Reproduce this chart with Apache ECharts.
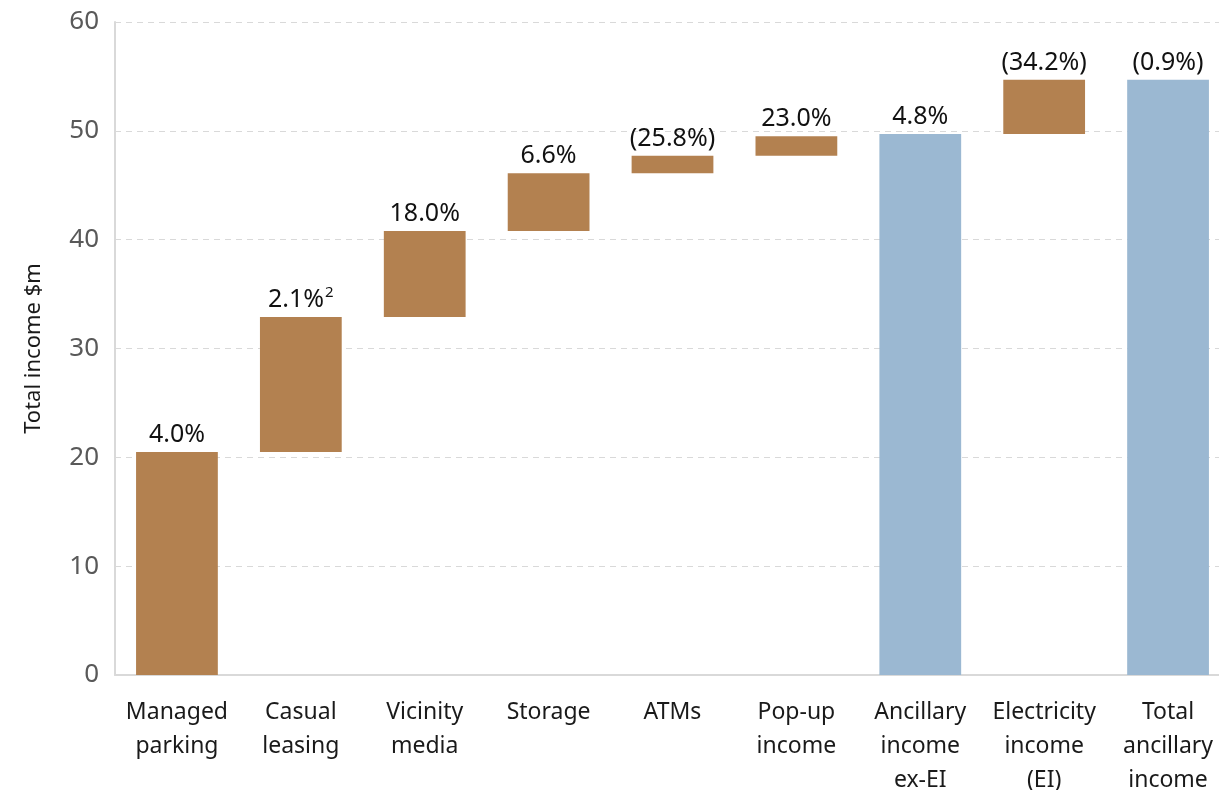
<!DOCTYPE html>
<html>
<head>
<meta charset="utf-8">
<script src="https://cdn.jsdelivr.net/npm/echarts@6/dist/echarts.min.js"></script>
<style>html,body{margin:0;padding:0;background:#fff;overflow:hidden}#c{width:1219px;height:790px}</style>
</head>
<body>
<div id="c"></div>
<script>
const categories = ['Managed\nparking', 'Casual\nleasing', 'Vicinity\nmedia', 'Storage', 'ATMs', 'Pop-up\nincome', 'Ancillary\nincome\nex-EI', 'Electricity\nincome\n(EI)', 'Total\nancillary\nincome'];
const baseValues = [0, 20.5, 32.9, 40.8, 46.1, 47.7, 0, 49.7, 0];
const barValues = [20.5, 12.4, 7.9, 5.3, 1.6, 1.8, 49.7, 5.0, 54.7];
const isTotal = [false, false, false, false, false, false, true, false, true];
const barLabels = ['4.0%', '2.1%|2', '18.0%', '6.6%', '(25.8%)', '23.0%', '4.8%', '(34.2%)', '(0.9%)'];
const yTicks = [0, 10, 20, 30, 40, 50, 60];

const BROWN = '#B38150';
const BLUE = '#9BB8D2';
const FONT = 'Noto Sans';

const chart = echarts.init(document.getElementById('c'), null, {renderer: 'canvas', width: 1219, height: 790});
chart.setOption({
  animation: false,
  backgroundColor: '#fff',
  textStyle: {fontFamily: FONT},
  grid: {left: 115, top: 22, width: 1115, height: 653, containLabel: false, outerBoundsMode: 'none'},
  xAxis: {
    type: 'category',
    data: categories,
    axisLine: {lineStyle: {color: '#d9d9d9', width: 2}},
    axisTick: {show: false},
    axisLabel: {color: '#1a1a1a', fontSize: 23, lineHeight: 34, margin: 20, fontFamily: FONT, interval: 0}
  },
  yAxis: {
    type: 'value',
    min: yTicks[0],
    max: yTicks[yTicks.length - 1],
    interval: 10,
    name: 'Total income $m',
    nameLocation: 'middle',
    nameRotate: 90,
    nameGap: 70,
    nameTextStyle: {color: '#1a1a1a', fontSize: 22, fontFamily: FONT},
    axisLine: {show: true, lineStyle: {color: '#d9d9d9', width: 2}},
    axisTick: {show: false},
    axisLabel: {color: '#595959', fontSize: 26, margin: 16, fontFamily: FONT},
    splitLine: {lineStyle: {color: '#d9d9d9', type: [6, 5], width: 1}}
  },
  series: [
    {
      type: 'bar',
      stack: 'w',
      silent: true,
      itemStyle: {color: 'transparent'},
      data: baseValues,
      barWidth: '66%'
    },
    {
      type: 'bar',
      stack: 'w',
      barWidth: '66%',
      data: barValues.map((v, i) => {
        const parts = barLabels[i].split('|');
        const txt = parts.length > 1 ? '{a|' + parts[0] + '}{s|' + parts[1] + '}' : '{a|' + parts[0] + '}';
        return {
          value: v,
          itemStyle: {color: isTotal[i] ? BLUE : BROWN},
          label: {formatter: txt}
        };
      }),
      label: {
        show: true,
        position: 'top',
        distance: 2,
        color: '#111',
        rich: {
          a: {fontSize: 25, color: '#111', fontFamily: FONT, lineHeight: 30},
          s: {fontSize: 15, color: '#111', fontFamily: FONT, verticalAlign: 'top', lineHeight: 30, padding: [0, 0, 11, 1]}
        }
      }
    }
  ]
});
</script>
</body>
</html>
